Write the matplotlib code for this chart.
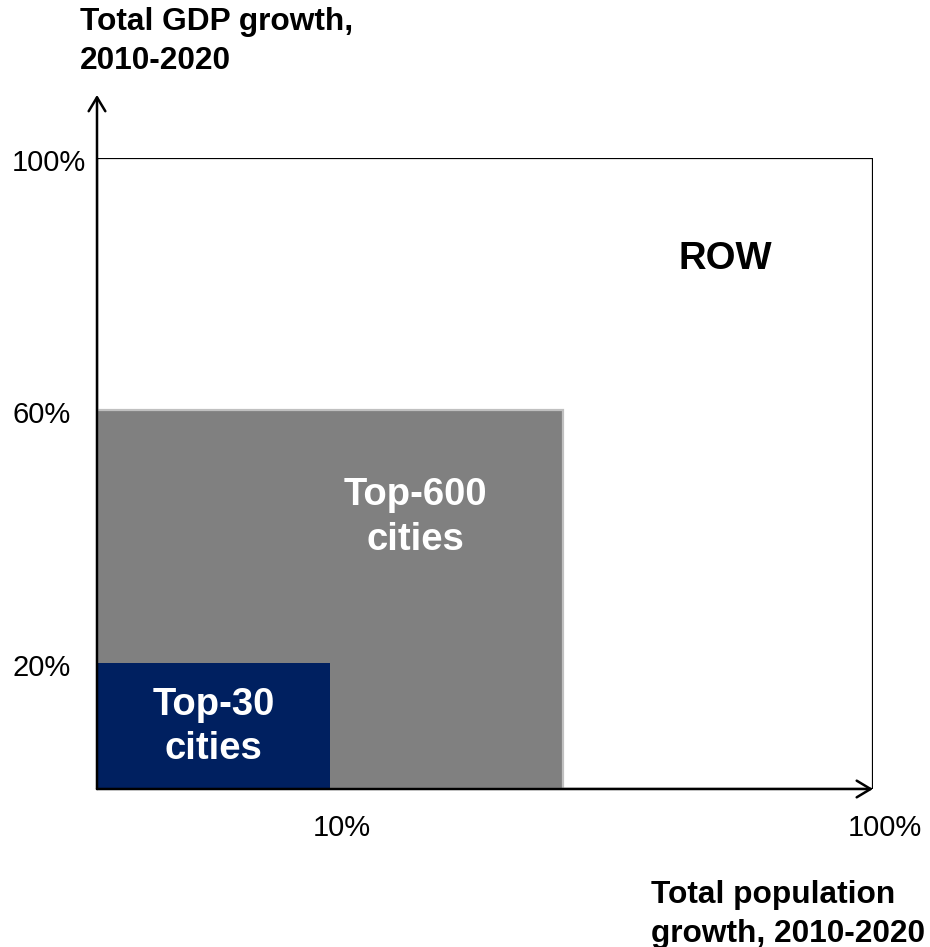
import matplotlib.pyplot as plt
from matplotlib.patches import Rectangle

plt.rcParams['font.family'] = ['Liberation Sans', 'DejaVu Sans']

# segments, drawn back to front
segments = ['ROW', 'Top-600\ncities', 'Top-30\ncities']
pop_extent = [100, 60, 30]      # width on the (schematic) population axis
gdp_share = [100, 60, 20]       # GDP growth share, %
seg_colors = ['white', '#808080', '#002060']
seg_edges = ['black', '#c0c0c0', 'none']
label_colors = ['black', 'white', 'white']

y_ticks = [20, 60, 100]
y_labels = ['20%', '60%', '100%']
x_ticks = [30, 100]
x_labels = ['10%', '100%']

fig = plt.figure(figsize=(9.3, 9.47), dpi=100)
ax = fig.add_axes([97 / 930, 158 / 947, 776 / 930, 631 / 947])
ax.set_xlim(0, 100)
ax.set_ylim(0, 100)
ax.set_axis_off()

# label spots inside each block, in axis units
label_xy = [(81, 84), (41, 43), (15, 9.8)]

for name, w, h, fc, ec, tc, (lx, ly) in zip(segments, pop_extent, gdp_share, seg_colors,
                                           seg_edges, label_colors, label_xy):
    ax.add_patch(Rectangle((0, 0), w, h, facecolor=fc, edgecolor=ec, lw=1.6, zorder=1))
    ax.text(lx, ly, name, color=tc, fontsize=27.5, fontweight='bold',
            ha='center', va='center', linespacing=1.3, zorder=3)

# axes with open arrow heads
arrow = dict(arrowstyle='->,head_length=0.5,head_width=0.3', lw=1.8, color='black',
             shrinkA=0, shrinkB=0, mutation_scale=20)
ax.annotate('', xy=(0, 1.1), xytext=(0, 0), xycoords='axes fraction', arrowprops=arrow, zorder=4)
ax.annotate('', xy=(1.0, 0), xytext=(0, 0), xycoords='axes fraction', arrowprops=arrow, zorder=4)

for v, lab in zip(y_ticks, y_labels):
    ax.annotate(lab, xy=(0, v), xycoords=('axes fraction', 'data'),
                xytext=(-85, -5), textcoords='offset pixels',
                ha='left', va='center', fontsize=21)

for v, lab in zip(x_ticks, x_labels):
    ax.annotate(lab, xy=(v, 0), xycoords=('data', 'axes fraction'),
                xytext=(12, -39), textcoords='offset pixels',
                ha='center', va='center', fontsize=21)

fig.text(80 / 930, 1 - 7 / 947, 'Total GDP growth,\n2010-2020', fontsize=22.8,
         fontweight='bold', ha='left', va='top', linespacing=1.38)
fig.text(651 / 930, 1 - 880 / 947, 'Total population\ngrowth, 2010-2020', fontsize=22.8,
         fontweight='bold', ha='left', va='top', linespacing=1.38)

fig.savefig('out.png', dpi=100)
